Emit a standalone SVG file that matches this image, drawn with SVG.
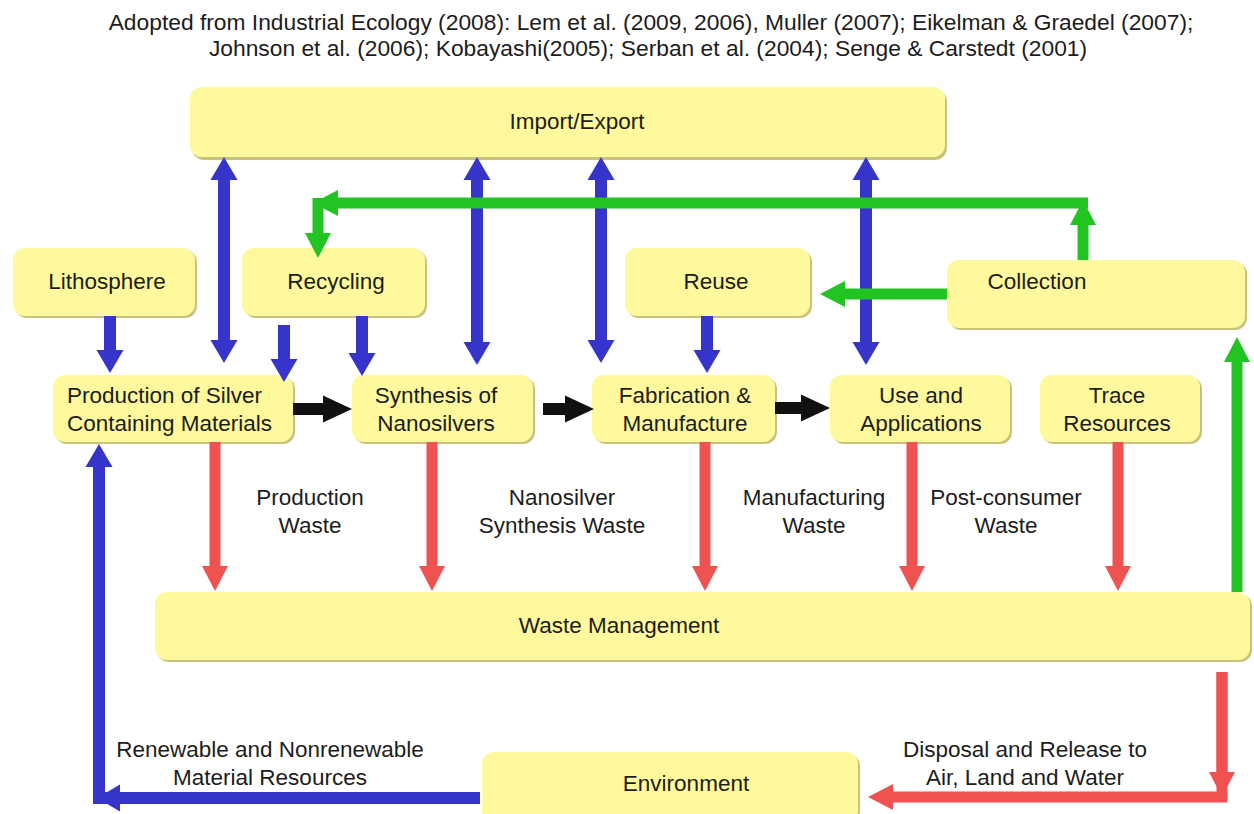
<svg xmlns="http://www.w3.org/2000/svg" width="1254" height="814" viewBox="0 0 1254 814">
<style>
.box{fill:#fdf99c;}
.sh{fill:#c9c27c;}
text{font-family:"Liberation Sans",Arial,sans-serif;fill:#1c1c1c;}
.t{font-size:22.5px;text-anchor:middle;}
.ti{font-size:22.8px;text-anchor:middle;}
.b{stroke:#3535cc;stroke-width:12;fill:none;}
.k{stroke:#111;stroke-width:12;fill:none;}
.r{stroke:#f05252;stroke-width:11;fill:none;}
.g{stroke:#22c422;stroke-width:11;fill:none;}
</style>
<defs>
<marker id="hb" markerUnits="userSpaceOnUse" markerWidth="24" markerHeight="28" refX="0" refY="14" orient="auto-start-reverse" viewBox="0 0 24 28"><path d="M0,0.5 L23,14 L0,27.5 z" fill="#3535cc"/></marker>
<marker id="hk" markerUnits="userSpaceOnUse" markerWidth="30" markerHeight="28" refX="0" refY="14" orient="auto" viewBox="0 0 30 28"><path d="M0,0.5 L29,14 L0,27.5 z" fill="#111"/></marker>
<marker id="hr" markerUnits="userSpaceOnUse" markerWidth="26" markerHeight="28" refX="0" refY="14" orient="auto" viewBox="0 0 26 28"><path d="M0,1 L25,14 L0,27 z" fill="#f05252"/></marker>
<marker id="hg" markerUnits="userSpaceOnUse" markerWidth="26" markerHeight="28" refX="0" refY="14" orient="auto" viewBox="0 0 26 28"><path d="M0,1 L25,14 L0,27 z" fill="#22c422"/></marker>
</defs>
<rect width="1254" height="814" fill="#fff"/>

<g id="title">
<text class="ti" x="651" y="30">Adopted from Industrial Ecology (2008): Lem et al. (2009, 2006), Muller (2007); Eikelman &amp; Graedel (2007);</text>
<text class="ti" x="648" y="56">Johnson et al. (2006); Kobayashi(2005); Serban et al. (2004); Senge &amp; Carstedt (2001)</text>
</g>

<g id="import-export"><rect class="sh" x="192" y="90" width="755" height="70" rx="12"/><rect class="box" x="190" y="87" width="755" height="70" rx="12"/><text class="t" x="577" y="129">Import/Export</text></g>
<g id="lithosphere"><rect class="sh" x="15" y="250" width="182" height="68" rx="12"/><rect class="box" x="13" y="248" width="182" height="68" rx="12"/><text class="t" x="107" y="289">Lithosphere</text></g>
<g id="recycling"><rect class="sh" x="244" y="250" width="183" height="68" rx="12"/><rect class="box" x="242" y="248" width="183" height="68" rx="12"/><text class="t" x="336" y="289">Recycling</text></g>
<g id="reuse"><rect class="sh" x="627" y="250" width="185" height="68" rx="12"/><rect class="box" x="625" y="248" width="185" height="68" rx="12"/><text class="t" x="716" y="289">Reuse</text></g>
<g id="collection"><rect class="sh" x="949" y="262" width="298" height="68" rx="12"/><rect class="box" x="947" y="260" width="298" height="68" rx="12"/><text class="t" x="1037" y="289">Collection</text></g>
<g id="production"><rect class="sh" x="55" y="377" width="240" height="67" rx="12"/><rect class="box" x="53" y="375" width="240" height="67" rx="12"/><text class="t" x="67" y="403" style="text-anchor:start">Production of Silver</text><text class="t" x="67" y="431" style="text-anchor:start">Containing Materials</text></g>
<g id="synthesis"><rect class="sh" x="354" y="377" width="181" height="67" rx="12"/><rect class="box" x="352" y="375" width="181" height="67" rx="12"/><text class="t" x="436" y="403">Synthesis of</text><text class="t" x="436" y="431">Nanosilvers</text></g>
<g id="fabrication"><rect class="sh" x="594" y="377" width="183" height="67" rx="12"/><rect class="box" x="592" y="375" width="183" height="67" rx="12"/><text class="t" x="685" y="403">Fabrication &amp;</text><text class="t" x="685" y="431">Manufacture</text></g>
<g id="use"><rect class="sh" x="832" y="377" width="180" height="67" rx="12"/><rect class="box" x="830" y="375" width="180" height="67" rx="12"/><text class="t" x="921" y="403">Use and</text><text class="t" x="921" y="431">Applications</text></g>
<g id="trace"><rect class="sh" x="1042" y="377" width="160" height="67" rx="12"/><rect class="box" x="1040" y="375" width="160" height="67" rx="12"/><text class="t" x="1117" y="403">Trace</text><text class="t" x="1117" y="431">Resources</text></g>
<g id="waste-management"><rect class="sh" x="157" y="594" width="1095" height="68" rx="12"/><rect class="box" x="155" y="592" width="1095" height="68" rx="12"/><text class="t" x="619" y="633">Waste Management</text></g>
<g id="environment"><rect class="sh" x="484" y="754" width="376" height="70" rx="12"/><rect class="box" x="482" y="752" width="376" height="70" rx="12"/><text class="t" x="686" y="791">Environment</text></g>

<g id="labels">
<text class="t" x="310" y="505">Production</text><text class="t" x="310" y="533">Waste</text>
<text class="t" x="562" y="505">Nanosilver</text><text class="t" x="562" y="533">Synthesis Waste</text>
<text class="t" x="814" y="505">Manufacturing</text><text class="t" x="814" y="533">Waste</text>
<text class="t" x="1006" y="505">Post-consumer</text><text class="t" x="1006" y="533">Waste</text>
<text class="t" x="270" y="757">Renewable and Nonrenewable</text><text class="t" x="270" y="785">Material Resources</text>
<text class="t" x="1025" y="757">Disposal and Release to</text><text class="t" x="1025" y="785">Air, Land and Water</text>
</g>

<g id="connectors">
<line class="b" x1="224" y1="180" x2="224" y2="340" marker-start="url(#hb)" marker-end="url(#hb)"/>
<line class="b" x1="477" y1="180" x2="477" y2="342" marker-start="url(#hb)" marker-end="url(#hb)"/>
<line class="b" x1="601" y1="180" x2="601" y2="340" marker-start="url(#hb)" marker-end="url(#hb)"/>
<line class="b" x1="866" y1="180" x2="866" y2="342" marker-start="url(#hb)" marker-end="url(#hb)"/>
<line class="b" x1="110" y1="316" x2="110" y2="350" marker-end="url(#hb)"/>
<line class="b" x1="284" y1="325" x2="284" y2="359" marker-end="url(#hb)"/>
<line class="b" x1="362" y1="316" x2="362" y2="353" marker-end="url(#hb)"/>
<line class="b" x1="707" y1="316" x2="707" y2="350" marker-end="url(#hb)"/>
<line class="k" x1="293" y1="409" x2="323" y2="409" marker-end="url(#hk)"/>
<line class="k" x1="543" y1="409" x2="565" y2="409" marker-end="url(#hk)"/>
<line class="k" x1="775" y1="408" x2="801" y2="408" marker-end="url(#hk)"/>
<line class="r" x1="215" y1="442" x2="215" y2="566" marker-end="url(#hr)"/>
<line class="r" x1="432" y1="442" x2="432" y2="566" marker-end="url(#hr)"/>
<line class="r" x1="705" y1="442" x2="705" y2="566" marker-end="url(#hr)"/>
<line class="r" x1="912" y1="442" x2="912" y2="566" marker-end="url(#hr)"/>
<line class="r" x1="1118" y1="442" x2="1118" y2="566" marker-end="url(#hr)"/>
<line class="g" x1="1237" y1="592" x2="1237" y2="362" marker-end="url(#hg)"/>
<line class="g" x1="947" y1="294" x2="845" y2="294" marker-end="url(#hg)"/>
<line class="g" x1="1083" y1="260" x2="1083" y2="225" marker-end="url(#hg)"/>
<line class="g" x1="1088" y1="203" x2="338" y2="203" marker-end="url(#hg)"/>
<line class="g" x1="318" y1="198" x2="318" y2="233" marker-end="url(#hg)"/>
<polyline class="r" points="1222,672 1222,797 893,797" marker-end="url(#hr)"/>
<line class="r" x1="1222" y1="672" x2="1222" y2="772" marker-end="url(#hr)"/>
<polyline class="b" points="480,798 99,798 99,467" marker-end="url(#hb)"/>
<line class="b" x1="480" y1="798" x2="120" y2="798" marker-end="url(#hb)"/>
</g>
</svg>
